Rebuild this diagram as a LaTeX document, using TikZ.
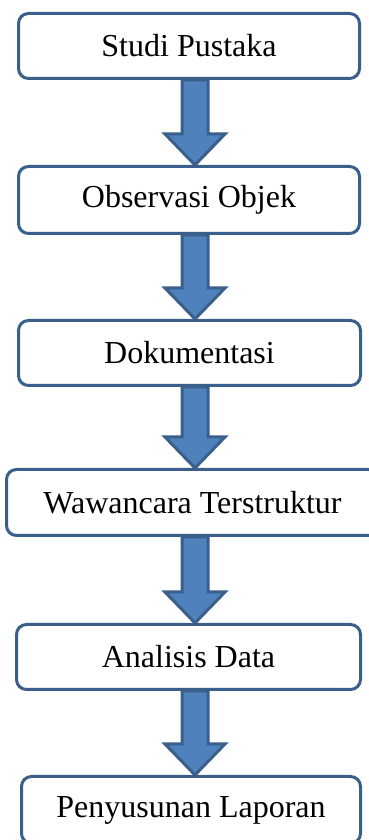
\documentclass[tikz,border=0pt]{standalone}
\usepackage{fontspec}
\setmainfont{Liberation Serif}
\usetikzlibrary{calc}

\definecolor{boxline}{HTML}{3A5F8B}
\definecolor{arrowfill}{HTML}{4F81BD}

\begin{document}
\begin{tikzpicture}[x=1pt,y=1pt,
		stepbox/.style={draw=boxline,line width=3pt,rounded corners=10pt,fill=white,
			inner sep=0pt,font=\fontsize{32}{36}\selectfont},
		flowarrow/.style={draw=boxline,fill=arrowfill,line width=3pt,miter limit=10}]
		\useasboundingbox (0,0) rectangle (368,840);

		\node[stepbox,minimum width=341,minimum height=65](studi) at (189,794){Studi Pustaka};
		\node[stepbox,minimum width=341,minimum height=67](observasi) at (189,640){Observasi Objek};
		\node[stepbox,minimum width=342,minimum height=65](dokumentasi) at (189.5,487){Dokumentasi};
		\node[stepbox,minimum width=372,minimum height=66](wawancara) at (192.5,337.5){Wawancara Terstruktur};
		\node[stepbox,minimum width=344,minimum height=65](analisis) at (188.5,183){Analisis Data};
		\node[stepbox,minimum width=339,minimum height=67](laporan) at (191,30){Penyusunan Laporan};

		% block arrows between the steps
		\foreach \a/\b in {studi/observasi,observasi/dokumentasi,dokumentasi/wawancara,
			wawancara/analisis,analisis/laporan}
			\draw[flowarrow] let \p1=(\a.south), \p2=(\b.north) in
				(182pt,\y1) -- (182pt,\y2+31pt) -- (165pt,\y2+31pt) -- (195pt,\y2)
				-- (225pt,\y2+31pt) -- (208pt,\y2+31pt) -- (208pt,\y1) -- cycle;

	\end{tikzpicture}
\end{document}
